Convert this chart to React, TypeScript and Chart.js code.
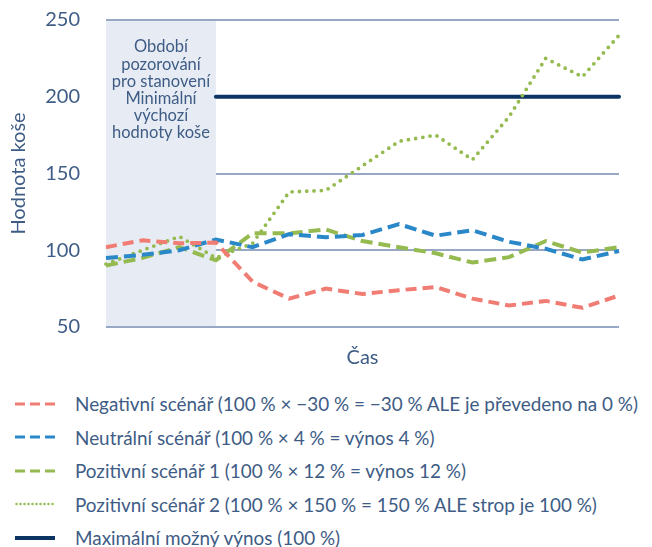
import React, { useEffect, useRef } from "react";
import { Chart, registerables } from "chart.js";

Chart.register(...registerables);

const timePoints = ["T1", "T2", "T3", "T4", "T5", "T6", "T7", "T8", "T9", "T10", "T11", "T12", "T13", "T14", "T15"];
const negativeScenario = [102, 106.5, 104.5, 105, 79.5, 68.5, 75, 71.5, 74, 76, 68.5, 64, 67, 62.5, 70.5];
const neutralScenario = [95, 97, 100, 107, 102, 110.5, 108.5, 110, 117, 109.5, 113, 105.5, 101, 94, 99.5];
const positiveScenario1 = [90, 95, 102, 93.5, 111, 111, 113.5, 106, 102, 98, 92, 95.5, 106, 98.5, 102];
const positiveScenario2 = [91, 100, 109, 95, 104.5, 138, 139, 155, 171, 175, 159, 187, 225, 213, 240];
const maxReturn = [null, null, null, 200, 200, 200, 200, 200, 200, 200, 200, 200, 200, 200, 200];
const yTicks = [50, 100, 150, 200, 250];
const seriesLabels = [
  "Negativní scénář (100 % × −30 % = −30 % ALE je převedeno na 0 %)",
  "Neutrální scénář (100 % × 4 % = výnos 4 %)",
  "Pozitivní scénář 1 (100 % × 12 % = výnos 12 %)",
  "Pozitivní scénář 2 (100 % × 150 % = 150 % ALE strop je 100 %)",
  "Maximální možný výnos (100 %)",
];
const observationLines = ["Období", "pozorování", "pro stanovení", "Minimální", "výchozí", "hodnoty koše"];
const observationEndIndex = 3;

const TEXT = "#3e5c85";
const GRID = "#97a7c4";
const SHADE = "#e7ecf4";
const RED = "#f07c73";
const BLUE = "#2a88c9";
const GREEN = "#95ba50";
const NAVY = "#0c3463";
const FONT = "Lato, 'Open Sans', sans-serif";

const seriesStyles = [
  { color: RED, dash: "10 5", width: 3, cap: "butt" },
  { color: BLUE, dash: "10 5", width: 3, cap: "butt" },
  { color: GREEN, dash: "10 5", width: 3, cap: "butt" },
  { color: GREEN, dash: "0 4", width: 2.5, cap: "round" },
  { color: NAVY, dash: "", width: 4, cap: "butt" },
];

const shadePlugin = {
  id: "observationShade",
  beforeDatasetsDraw(chart: any) {
    const { ctx } = chart;
    const xs = chart.scales.x;
    const ys = chart.scales.y;
    const x0 = xs.getPixelForValue(0);
    const x1 = xs.getPixelForValue(observationEndIndex);
    const y0 = ys.getPixelForValue(yTicks[yTicks.length - 1]) + 1;
    const y1 = ys.getPixelForValue(yTicks[0]) - 1;
    ctx.save();
    ctx.fillStyle = SHADE;
    ctx.fillRect(x0, y0, x1 - x0, y1 - y0);
    ctx.fillStyle = TEXT;
    ctx.font = `16.5px ${FONT}`;
    ctx.textAlign = "center";
    ctx.textBaseline = "middle";
    const cx = (x0 + x1) / 2;
    observationLines.forEach((line, i) => {
      ctx.fillText(line, cx, chart.chartArea.top + 27 + i * 17.2);
    });
    ctx.restore();
  },
};

export default function App() {
  const ref = useRef<HTMLCanvasElement>(null);
  useEffect(() => {
    if (!ref.current) return;
    const chart = new Chart(ref.current, {
      type: "line",
      data: {
        labels: timePoints,
        datasets: [
          { label: seriesLabels[0], data: negativeScenario, borderColor: RED, borderWidth: 4, borderDash: [11, 6], pointRadius: 0, tension: 0 },
          { label: seriesLabels[1], data: neutralScenario, borderColor: BLUE, borderWidth: 4, borderDash: [12, 6], pointRadius: 0, tension: 0 },
          { label: seriesLabels[2], data: positiveScenario1, borderColor: GREEN, borderWidth: 4, borderDash: [12, 6], pointRadius: 0, tension: 0 },
          { label: seriesLabels[3], data: positiveScenario2, borderColor: GREEN, borderWidth: 3.8, borderDash: [0, 7.3], borderCapStyle: "round", pointRadius: 0, tension: 0 },
          { label: seriesLabels[4], data: maxReturn as any, borderColor: NAVY, borderWidth: 4, borderCapStyle: "round", pointRadius: 0, tension: 0, order: 1 },
        ],
      },
      options: {
        responsive: false,
        animation: false,
        layout: { padding: { top: 12, right: 33, bottom: 0, left: 0 } },
        plugins: { legend: { display: false }, tooltip: { enabled: false } },
        scales: {
          x: {
            grid: { display: false },
            border: { display: false },
            ticks: { display: false },
            title: { display: true, text: "Čas", color: TEXT, font: { family: FONT, size: 20 }, padding: { top: 0, bottom: 8 } },
            afterFit(scale: any) {
              scale.height = 51;
              scale.paddingLeft = 0;
              scale.paddingRight = 0;
            },
          },
          y: {
            min: 50,
            max: 250,
            afterBuildTicks(scale: any) {
              scale.ticks = yTicks.map((v) => ({ value: v }));
            },
            grid: { color: GRID, lineWidth: 2, drawTicks: false },
            border: { display: false },
            ticks: { color: TEXT, font: { family: FONT, size: 20 }, padding: 26 },
            title: { display: true, text: "Hodnota koše", color: TEXT, font: { family: FONT, size: 20, lineHeight: 1.05 }, padding: { top: 0, bottom: 0 } },
            afterFit(scale: any) {
              scale.width = 98;
              scale.paddingTop = 0;
              scale.paddingBottom = 0;
            },
          },
        },
      },
      plugins: [shadePlugin],
    });
    return () => chart.destroy();
  }, []);

  return (
    <div style={{ width: 644 }}>
      <div style={{ width: 644, height: 370 }}>
        <canvas ref={ref} width={644} height={370} />
      </div>
      <div style={{ marginTop: 9, fontFamily: FONT, fontSize: 18.9, color: TEXT }}>
        {seriesLabels.map((label, i) => {
          const s = seriesStyles[i];
          return (
            <div key={label} style={{ height: 33.5, display: "flex", alignItems: "center", whiteSpace: "nowrap" }}>
              <svg width={40} height={8} style={{ marginLeft: 7, marginRight: 20, flex: "none" }}>
                <line x1={s.cap === "round" ? 1.5 : 0} y1={4} x2={40} y2={4} stroke={s.color} strokeWidth={s.width} strokeDasharray={s.dash || undefined} strokeLinecap={s.cap as any} />
              </svg>
              <span>{label}</span>
            </div>
          );
        })}
      </div>
    </div>
  );
}
